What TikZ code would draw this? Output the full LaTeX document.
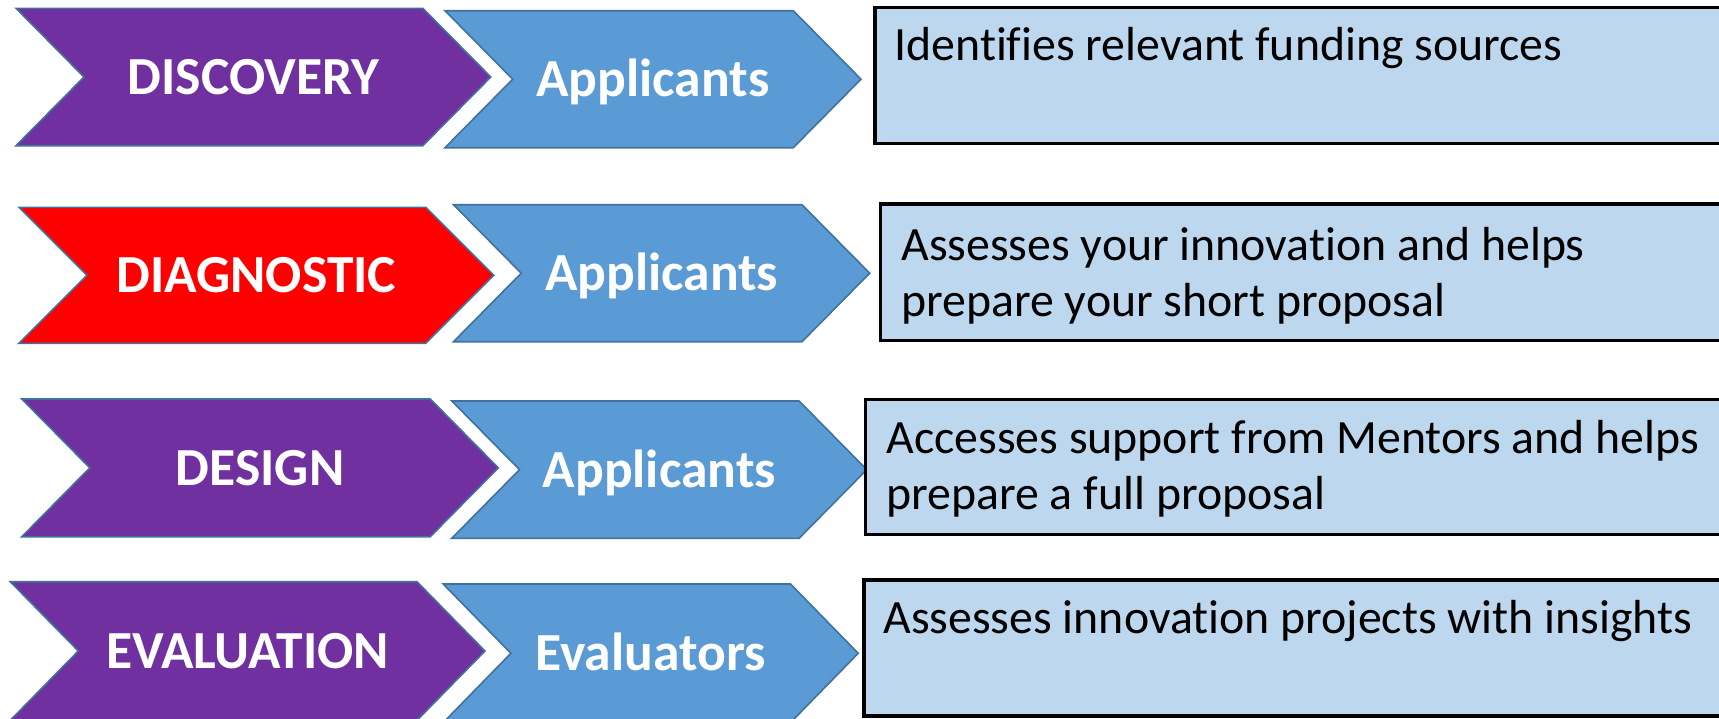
\documentclass[tikz,border=0pt]{standalone}
\usepackage{fontspec}
\setmainfont{Carlito}[Ligatures=NoCommon]
\definecolor{chpurple}{HTML}{7030A0}
\definecolor{chred}{HTML}{FF0000}
\definecolor{chblue}{HTML}{5B9BD5}
\definecolor{chedge}{HTML}{41719C}
\definecolor{boxfill}{HTML}{BDD7EE}
\tikzset{
  chev/.style={draw=chedge, line width=0.8pt, line join=miter},
  stagelabel/.style={text=white, font=\fontsize{26.8pt}{31pt}\selectfont\bfseries, inner sep=0pt, anchor=base},
  descbox/.style={draw=black, fill=boxfill, line width=1.75pt},
  desctext/.style={font=\fontsize{23.9pt}{28pt}\selectfont, inner sep=0pt, anchor=base west},
}
% #1 style, #2 x left, #3 y top, #4 y bottom, #5 x tip, #6 depth
\newcommand\chevshape[6]{%
  \path[chev,#1] ({#2},{#3}) -- ({#5-#6},{#3}) -- ({#5},{(#3+#4)/2}) -- ({#5-#6},{#4})
     -- ({#2},{#4}) -- ({#2+#6},{(#3+#4)/2}) -- cycle;}
\begin{document}
\begin{tikzpicture}[x=0.5pt,y=-0.5pt]
\useasboundingbox (0,0) rectangle (1719,718);
\clip (0,0) rectangle (1719,718);
% row 1
\chevshape{fill=chpurple}{16}{8.3}{145.7}{490.8}{68}
\chevshape{fill=chblue}{445}{10.7}{147.7}{861}{67.7}
\path[descbox] (875,7.3) rectangle (1745,143.3);
\node[stagelabel] (s1) at ({(16+490.8)/2},{77+17.5}) {DISCOVERY};
\node[stagelabel] (r1) at ({(445+861)/2},{79.2+17.5}) {Applicants};
\node[desctext] (d1) at (894,60.5) {Identifies relevant funding sources};
% row 2
\chevshape{fill=chred}{19}{207.3}{343.3}{493.7}{68}
\chevshape{fill=chblue}{453.5}{204.7}{341.7}{869.7}{67.7}
\path[descbox] (880.5,204) rectangle (1745,340.7);
\node[stagelabel] (s2) at ({(19+493.7)/2},{275.3+17.5}) {DIAGNOSTIC};
\node[stagelabel] (r2) at ({(453.5+869.7)/2},{273.2+17.5}) {Applicants};
\node[desctext] (d2) at (901,260) {\vtop{\hbox{Assesses your innovation and helps}\hbox{prepare your short proposal}}};
% row 3
\chevshape{fill=chpurple}{21.8}{399}{536.7}{498.3}{68}
\chevshape{fill=chblue}{451.8}{401}{538.3}{866.8}{67.7}
\path[descbox] (865.5,399.3) rectangle (1745,534.3);
\node[stagelabel] (s3) at ({(21.8+498.3)/2},{467.8+17.5}) {DESIGN};
\node[stagelabel] (r3) at ({(451.8+866.8)/2},{469.6+17.5}) {Applicants};
\node[desctext] (d3) at (886,453) {\vtop{\hbox{Accesses support from Mentors and helps}\hbox{prepare a full proposal}}};
% row 4
\chevshape{fill=chpurple}{10.3}{581.7}{720.3}{485}{68}
\chevshape{fill=chblue}{443.2}{584}{722.6}{858.2}{67.7}
\path[descbox] (863.9,580) rectangle (1745,716);
\node[stagelabel] (s4) at ({(10.3+485)/2},{651+17.5}) {EVALUATION};
\node[stagelabel] (r4) at ({(443.2+858.2)/2},{653.3+17.5}) {Evaluators};
\node[desctext] (d4) at (883,633.3) {Assesses innovation projects with insights};
\end{tikzpicture}
\end{document}
